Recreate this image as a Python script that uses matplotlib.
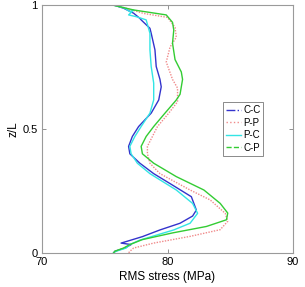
import matplotlib
matplotlib.use("Agg")
import matplotlib.pyplot as plt
from matplotlib.lines import Line2D

plt.rcParams['font.family'] = ['Liberation Sans', 'DejaVu Sans']

# RMS stress (MPa) vs z/L
cc_z = [1.00, 0.987, 0.967, 0.946, 0.94, 0.906, 0.886, 0.819, 0.752, 0.70, 0.67, 0.617, 0.564, 0.510, 0.470, 0.43, 0.40, 0.362, 0.32, 0.28, 0.227, 0.173, 0.149, 0.12, 0.093, 0.066, 0.046, 0.040, 0.034, 0.020, 0.007, 0.0]
cc_x = [75.7, 76.5, 77.3, 77.8, 77.9, 78.6, 78.7, 79.0, 79.1, 79.4, 79.5, 79.3, 78.7, 77.7, 77.2, 76.9, 77.0, 77.8, 78.9, 80.2, 81.9, 82.3, 82.0, 81.0, 79.4, 78.0, 76.7, 76.3, 77.1, 76.6, 75.8, 75.7]

pp_z = [1.00, 0.966, 0.950, 0.91, 0.87, 0.83, 0.77, 0.70, 0.665, 0.61, 0.564, 0.51, 0.47, 0.43, 0.40, 0.362, 0.32, 0.254, 0.214, 0.16, 0.128, 0.094, 0.067, 0.040, 0.020, 0.007, 0.0]
pp_x = [75.8, 78.1, 80.0, 80.6, 80.7, 80.2, 79.9, 80.4, 80.8, 80.8, 80.1, 79.2, 78.8, 78.4, 78.4, 78.6, 79.4, 81.8, 83.4, 84.6, 84.8, 84.2, 81.8, 78.9, 77.3, 77.0, 76.9]

pc_z = [1.00, 0.987, 0.973, 0.980, 0.960, 0.953, 0.94, 0.886, 0.819, 0.752, 0.685, 0.617, 0.564, 0.51, 0.47, 0.43, 0.40, 0.362, 0.32, 0.254, 0.20, 0.16, 0.12, 0.093, 0.052, 0.034, 0.020, 0.007, 0.0]
pc_x = [75.7, 76.6, 77.0, 77.3, 76.9, 77.5, 78.3, 78.6, 78.6, 78.7, 78.9, 78.9, 78.6, 77.9, 77.4, 77.0, 77.1, 77.6, 78.6, 80.7, 82.0, 82.4, 81.8, 80.5, 77.8, 77.0, 76.7, 75.9, 75.7]

cp_z = [1.00, 0.980, 0.960, 0.93, 0.899, 0.846, 0.78, 0.73, 0.70, 0.64, 0.617, 0.564, 0.51, 0.47, 0.43, 0.40, 0.362, 0.308, 0.254, 0.20, 0.161, 0.134, 0.107, 0.081, 0.054, 0.034, 0.020, 0.007, 0.0]
cp_x = [75.6, 77.3, 79.9, 80.4, 80.5, 80.4, 80.6, 81.1, 81.2, 81.0, 80.7, 79.8, 78.9, 78.3, 77.9, 78.0, 78.9, 80.7, 82.9, 84.2, 84.8, 84.7, 83.1, 80.4, 78.0, 77.0, 76.5, 75.8, 75.7]

series_labels = ['C-C', 'P-P', 'P-C', 'C-P']

fig = plt.figure(figsize=(3.05, 2.87), dpi=100)
ax = fig.add_axes([42/305, 1-253/287, 251/305, 248/287])

c_cc = '#3333cc'
c_pp = '#f08a8a'
c_pc = '#33e5e5'
c_cp = '#33cc33'

ax.plot(cc_x, cc_z, color=c_cc, lw=1.0)
ax.plot(pp_x, pp_z, color=c_pp, lw=1.0, ls=(0, (1, 1)))
ax.plot(pc_x, pc_z, color=c_pc, lw=1.0)
ax.plot(cp_x, cp_z, color=c_cp, lw=1.0)

ax.set_xlim(70, 90)
ax.set_ylim(0, 1)
ax.set_xticks([70, 80, 90])
ax.set_xticklabels(['70', '80', '90'])
ax.set_yticks([0, 0.5, 1])
ax.set_yticklabels(['0', '0.5', '1'])
ax.tick_params(direction='in', top=True, right=True, length=3, width=0.6,
               color='#808080', labelsize=8, pad=3)
for s in ax.spines.values():
    s.set_color('#9a9a9a')
    s.set_linewidth(0.8)
ax.set_xlabel('RMS stress (MPa)', fontsize=8.5, labelpad=3)
ax.set_ylabel('z/L', fontsize=8.5, labelpad=2)

handles = [
    Line2D([], [], color=c_cc, lw=1.0, ls='-.'),
    Line2D([], [], color=c_pp, lw=1.0, ls=':'),
    Line2D([], [], color=c_pc, lw=1.0, ls='-'),
    Line2D([], [], color=c_cp, lw=1.0, ls='--'),
]
leg = ax.legend(handles, series_labels, loc='upper left', bbox_to_anchor=(0.72, 0.607),
                fontsize=7, frameon=True, fancybox=False, handlelength=1.6,
                handletextpad=0.2, borderpad=0.3, labelspacing=0.25, borderaxespad=0)
leg.get_frame().set_edgecolor('#555555')
leg.get_frame().set_linewidth(0.6)

fig.savefig('out.png', dpi=100)
